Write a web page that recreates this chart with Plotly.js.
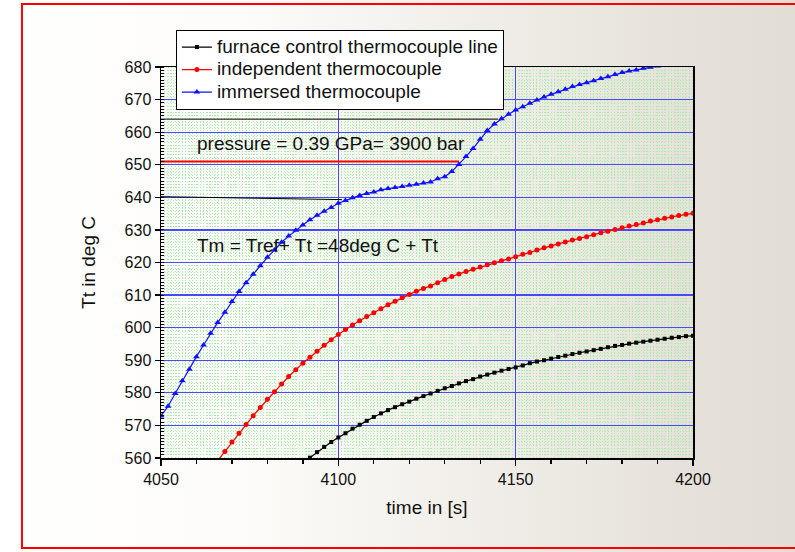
<!DOCTYPE html>
<html>
<head>
<meta charset="utf-8">
<script src="https://cdn.plot.ly/plotly-3.0.1.min.js"></script>
<style>
  html, body { margin:0; padding:0; }
  body { width:795px; height:552px; overflow:hidden;
    background: linear-gradient(to right, #ffffff 0%, #fdfcfa 30%, #f1eee9 60%, #e6e2db 85%, #e2ddd5 100%); }
  #chart { width:795px; height:552px; }
  .legendtext { font-size: 19px !important; }
</style>
</head>
<body>
<div id="chart"></div>
<script>
// ---- data ----
const timeBlue = [4050,4052,4054,4056,4058,4060,4062,4064,4066,4068,4070,4072,4074,4076,4078,4080,4082,4084,4086,4088,4090,4092,4094,4096,4098,4100,4102,4104,4106,4108,4110,4112,4114,4116,4118,4120,4122,4124,4126,4128,4130,4132,4134,4136,4138,4140,4142,4144,4146,4148,4150,4152,4154,4156,4158,4160,4162,4164,4166,4168,4170,4172,4174,4176,4178,4180,4182,4184,4186,4188,4190,4192,4194,4196,4198,4200];
const immersedTc = [572.9,575.9,579.8,583.7,587.2,591.1,594.7,598.3,601.6,604.7,608.0,611.1,613.8,616.4,619.0,621.6,623.8,626.2,628.1,629.9,631.5,633.1,634.5,635.7,636.9,638.2,639.0,639.9,640.6,641.2,641.6,642.3,642.7,643.0,643.3,643.7,644.0,644.4,644.7,645.7,646.3,647.9,650.1,652.5,655.0,657.8,660.5,662.5,664.1,665.5,666.8,667.8,668.9,669.9,670.8,671.6,672.4,673.2,674.0,674.6,675.2,675.8,676.5,677.0,677.7,678.3,678.8,679.1,679.6,679.9,680.3,680.7,681.1,681.5,681.8,682.2];

const timeRed = [4066,4068,4070,4072,4074,4076,4078,4080,4082,4084,4086,4088,4090,4092,4094,4096,4098,4100,4102,4104,4106,4108,4110,4112,4114,4116,4118,4120,4122,4124,4126,4128,4130,4132,4134,4136,4138,4140,4142,4144,4146,4148,4150,4152,4154,4156,4158,4160,4162,4164,4166,4168,4170,4172,4174,4176,4178,4180,4182,4184,4186,4188,4190,4192,4194,4196,4198,4200];
const independentTc = [559.2,562.0,564.9,567.6,570.3,573.0,575.5,578.0,580.3,582.7,585.0,587.1,589.1,590.9,592.8,594.6,596.3,597.9,599.4,600.8,602.1,603.4,604.6,605.8,607.0,608.1,609.2,610.2,611.2,612.0,612.8,613.8,614.8,615.7,616.5,617.2,617.9,618.6,619.3,619.9,620.5,621.1,621.8,622.5,623.1,623.8,624.5,625.1,625.7,626.3,626.9,627.4,627.9,628.5,629.1,629.6,630.1,630.7,631.2,631.7,632.1,632.7,633.1,633.6,634.0,634.4,634.8,635.1];

const timeBlack = [4090,4092,4094,4096,4098,4100,4102,4104,4106,4108,4110,4112,4114,4116,4118,4120,4122,4124,4126,4128,4130,4132,4134,4136,4138,4140,4142,4144,4146,4148,4150,4152,4154,4156,4158,4160,4162,4164,4166,4168,4170,4172,4174,4176,4178,4180,4182,4184,4186,4188,4190,4192,4194,4196,4198,4200];
const furnaceTc = [558.5,560.1,561.8,563.4,564.9,566.3,567.6,569.0,570.2,571.4,572.6,573.7,574.7,575.6,576.5,577.3,578.2,579.0,579.8,580.6,581.4,582.1,582.9,583.6,584.2,585.0,585.6,586.2,586.8,587.3,587.8,588.4,589.1,589.6,590.0,590.5,591.0,591.4,591.9,592.3,592.7,593.1,593.5,594.0,594.4,594.7,595.1,595.4,595.7,596.0,596.3,596.6,596.9,597.1,597.4,597.5];

// reference marker lines
const line664X = [4050, 4145];
const line664Y = [664, 664];
const line651X = [4050, 4134];
const line651Y = [651, 651];
const line640X = [4050, 4101];
const line640Y = [640.2, 639.3];

const seriesNames = ['furnace control thermocouple line', 'independent thermocouple', 'immersed thermocouple'];
const noteTexts = ['pressure = 0.39 GPa= 3900 bar', 'Tm = Tref+ Tt =48deg C + Tt'];
const noteX = [4059.6, 4059.6];
const noteY = [656.6, 625.1];

const FONT = 'Liberation Sans, Arial, Helvetica, sans-serif';
const BLUE = '#1010ff';
const GRID_BLUE = '#4848ff';
const GREEN = '#a8eea8';

const traces = [
  {x: [], y: [], xaxis: 'x2', yaxis: 'y', showlegend: false, hoverinfo: 'skip', mode: 'lines'},
  {x: line664X, y: line664Y, mode: 'lines', line: {color: '#000000', width: 1}, showlegend: false, hoverinfo: 'skip'},
  {x: line651X, y: line651Y, mode: 'lines', line: {color: '#ff0000', width: 2}, showlegend: false, hoverinfo: 'skip'},
  {x: line640X, y: line640Y, mode: 'lines', line: {color: '#000000', width: 1}, showlegend: false, hoverinfo: 'skip'},
  {x: timeBlack, y: furnaceTc, name: seriesNames[0], mode: 'lines+markers',
   line: {color: '#000000', width: 1.2}, marker: {symbol: 'square', size: 4, color: '#000000'}},
  {x: timeRed, y: independentTc, name: seriesNames[1], mode: 'lines+markers',
   line: {color: '#ff0000', width: 1.2}, marker: {symbol: 'circle', size: 5, color: '#ff0000'}},
  {x: timeBlue, y: immersedTc, name: seriesNames[2], mode: 'lines+markers',
   line: {color: BLUE, width: 1.2}, marker: {symbol: 'triangle-up', size: 6, color: BLUE}}
];

const layout = {
  width: 795, height: 552,
  margin: {l: 161, r: 102, t: 67, b: 94, pad: 0},
  paper_bgcolor: 'rgba(0,0,0,0)',
  plot_bgcolor: 'rgba(0,0,0,0)',
  font: {family: FONT, color: '#111111'},
  showlegend: true,
  xaxis: {
    range: [4050, 4200], tick0: 4050, dtick: 50,
    ticks: 'outside', ticklen: 6, tickwidth: 1.3, tickcolor: '#000',
    showline: true, linecolor: '#000', linewidth: 1.5, mirror: true,
    showgrid: true, gridcolor: GRID_BLUE, gridwidth: 1.3, zeroline: false,
    tickfont: {size: 16, family: FONT, color: '#111'},
    title: {text: 'time in [s]', font: {size: 19, family: FONT, color: '#111'}, standoff: 14},
    minor: {dtick: 10, ticks: 'outside', ticklen: 4, tickwidth: 1.3, tickcolor: '#000', showgrid: false}
  },
  xaxis2: {
    overlaying: 'x', anchor: 'y', side: 'bottom',
    range: [4050, 4200], tick0: 4050, dtick: 50,
    showticklabels: false, ticks: '', showline: false, showgrid: false, zeroline: false,
    minor: {dtick: 1, ticks: '', showgrid: true, gridcolor: GREEN, gridwidth: 1, griddash: '1px,2px'}
  },
  yaxis: {
    range: [560, 680], tick0: 560, dtick: 10,
    ticks: 'outside', ticklen: 5, tickwidth: 1.3, tickcolor: '#000',
    showline: true, linecolor: '#000', linewidth: 1.5, mirror: true,
    showgrid: true, gridcolor: GRID_BLUE, gridwidth: 1.3, zeroline: false,
    tickfont: {size: 16, family: FONT, color: '#111'},
    title: {text: 'Tt in deg C', font: {size: 19, family: FONT, color: '#111'}, standoff: 24},
    minor: {dtick: 1, ticks: 'inside', ticklen: 3, tickwidth: 1, tickcolor: '#000',
            showgrid: true, gridcolor: GREEN, gridwidth: 1, griddash: '1px,2px'}
  },
  legend: {
    x: 0.028, y: 1.095, xanchor: 'left', yanchor: 'top',
    bgcolor: '#ffffff', bordercolor: '#000000', borderwidth: 1,
    font: {size: 15, family: FONT, color: '#111'},
    tracegroupgap: 0, itemwidth: 30
  },
  annotations: noteTexts.map((t, i) => ({
    x: noteX[i], y: noteY[i], xref: 'x', yref: 'y', xanchor: 'left', yanchor: 'middle',
    text: t, showarrow: false, font: {size: 19, family: FONT, color: '#111'}
  })),
  shapes: [{
    type: 'rect', xref: 'paper', yref: 'paper',
    x0: -0.2613, x1: 1.35, y0: -0.2302, y1: 1.1611,
    line: {color: '#ff0000', width: 2}, fillcolor: 'rgba(0,0,0,0)', layer: 'above'
  }]
};

Plotly.newPlot('chart', traces, layout, {displayModeBar: false, staticPlot: true});
</script>
</body>
</html>
